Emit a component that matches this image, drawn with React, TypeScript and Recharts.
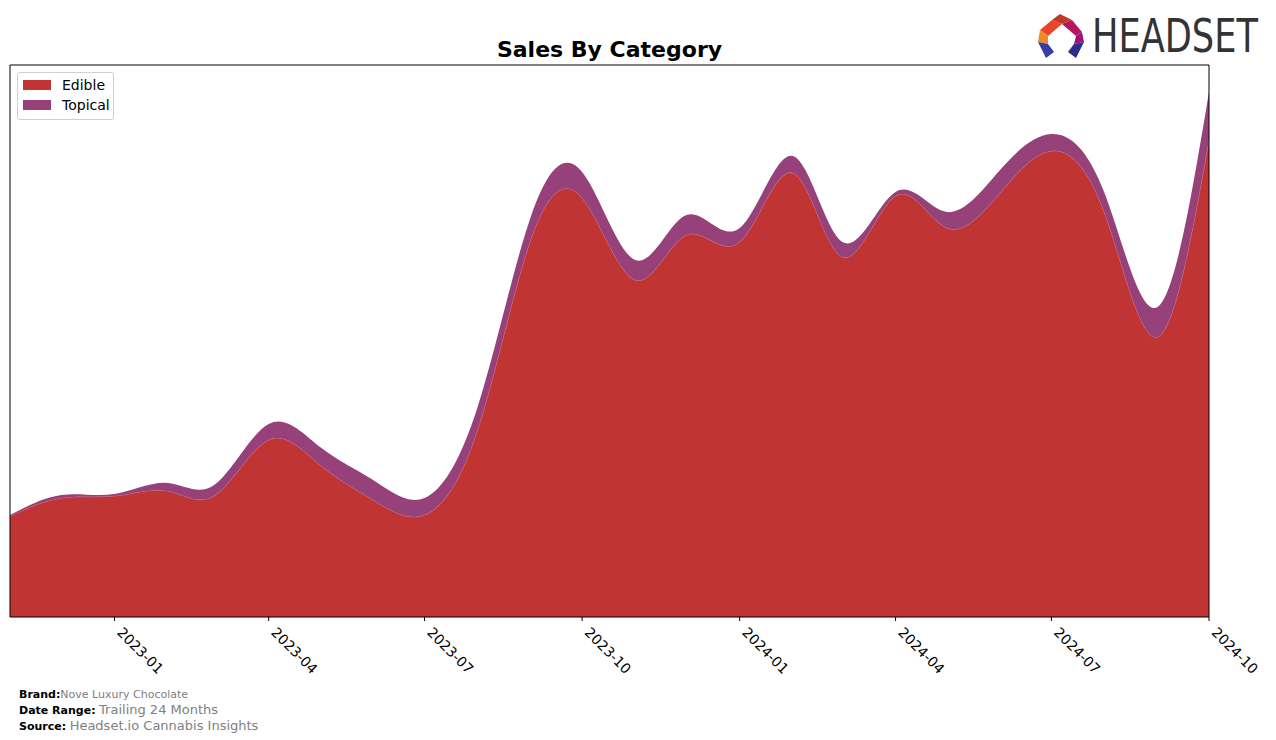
import React from 'react';
import { AreaChart, Area, XAxis, YAxis, Legend } from 'recharts';

const months = ['2022-11','2022-12','2023-01','2023-02','2023-03','2023-04','2023-05','2023-06','2023-07','2023-08','2023-09','2023-10','2023-11','2023-12','2024-01','2024-02','2024-03','2024-04','2024-05','2024-06','2024-07','2024-08','2024-09','2024-10'];
const edible = [101,119,121,126,122,177,152,117,102,187,377,419,337,382,375,444,360,421,389,424,466,404,280,477];
const topical = [1,3,2,8,11,16,18,20,17,23,23,26,20,20,14,17,15,4,16,23,17,20,30,48];
const tickLabels = ['2023-01','2023-04','2023-07','2023-10','2024-01','2024-04','2024-07','2024-10'];
const seriesNames = ['Edible','Topical'];
const seriesColors = ['#C03533','#97417A'];

const toTs = (m: string) => { const [y, mo] = m.split('-').map(Number); return Date.UTC(y, mo - 1, 1); };
const fmt = (t: number) => { const d = new Date(t); return `${d.getUTCFullYear()}-${String(d.getUTCMonth() + 1).padStart(2, '0')}`; };

const data = months.map((m, i) => ({ t: toTs(m), Edible: edible[i], Topical: topical[i] }));
const ticks = tickLabels.map(toTs);
const FONT = '"DejaVu Sans", sans-serif';

const Tick = (props: any) => {
  const { x, y, payload } = props;
  return (
    <text transform={`translate(${x + 9},${y + 3}) rotate(45)`} fontSize={14} fontFamily={FONT} fill="#000" textAnchor="start" dominantBaseline="hanging">
      {fmt(payload.value)}
    </text>
  );
};

const LegendBox = () => (
  <div style={{ border: '1px solid #d0d0d0', borderRadius: 3, background: '#fff', padding: '2px 0 4px 5px', fontFamily: FONT, fontSize: 14, width: 97, boxSizing: 'border-box', textAlign: 'left' }}>
    {seriesNames.map((n, i) => (
      <div key={n} style={{ display: 'flex', alignItems: 'center', height: 20 }}>
        <span style={{ display: 'inline-block', flexShrink: 0, width: 28, height: 10, background: seriesColors[i], marginRight: 11 }} />
        <span style={{ whiteSpace: 'nowrap' }}>{n}</span>
      </div>
    ))}
  </div>
);

const Logo = () => (
  <div style={{ position: 'absolute', left: 1034, top: 10, width: 240, height: 52 }}>
    <svg width={54} height={52} style={{ position: 'absolute', left: 0, top: 0 }}>
      <polygon points="26,4 38,10 28,14 18,10" fill="#c0392b" />
      <polygon points="38,10 48,22 42,26 28,14" fill="#b5175d" />
      <polygon points="18,10 28,14 14,26 6,20" fill="#e8452b" />
      <polygon points="6,20 14,26 14,34 4,32" fill="#f08a24" />
      <polygon points="48,22 50,32 40,34 42,26" fill="#a0127a" />
      <polygon points="4,32 14,34 20,42 12,48" fill="#3a3aa8" />
      <polygon points="50,32 40,34 34,42 42,48" fill="#2c2c8c" />
    </svg>
    <div style={{ position: 'absolute', left: 58, top: 1, fontSize: 46, lineHeight: '50px', fontFamily: '"DejaVu Sans Condensed", "Liberation Sans Narrow", sans-serif', color: '#333', whiteSpace: 'nowrap', transformOrigin: 'left top', transform: 'scaleX(0.85)' }}>HEADSET</div>
  </div>
);

export default function App() {
  return (
    <div style={{ position: 'absolute', left: 0, top: 0, width: 1276, height: 740, background: '#fff', fontFamily: FONT }}>
      <div style={{ position: 'absolute', left: 10, width: 1199, top: 37, textAlign: 'center', fontWeight: 'bold', fontSize: 22, fontFamily: FONT }}>Sales By Category</div>
      <Logo />
      <AreaChart width={1276} height={740} data={data} margin={{ top: 64, left: 9, right: 66, bottom: 0 }} style={{ position: 'absolute', left: 0, top: 0 }}>
        <XAxis dataKey="t" type="number" scale="time" domain={[toTs(months[0]), toTs(months[months.length - 1])]} ticks={ticks} tick={<Tick />} tickSize={4} tickLine={{ stroke: '#000' }} axisLine={{ stroke: '#000' }} height={123} interval={0} allowDataOverflow />
        <XAxis xAxisId="top" orientation="top" dataKey="t" type="number" domain={['dataMin', 'dataMax']} tick={false} tickLine={false} axisLine={{ stroke: '#000' }} height={1} />
        <YAxis domain={[0, 552]} tick={false} tickLine={false} axisLine={{ stroke: '#000' }} width={1} allowDataOverflow />
        <YAxis yAxisId="right" orientation="right" domain={[0, 552]} tick={false} tickLine={false} axisLine={{ stroke: '#000' }} width={1} />
        <Legend layout="horizontal" verticalAlign="middle" align="center" content={<LegendBox />} wrapperStyle={{ position: 'absolute', left: 17, top: 72, width: 97, height: 47 }} />
        <Area type="natural" dataKey="Edible" stackId="1" fill={seriesColors[0]} fillOpacity={1} stroke="#d77a86" strokeWidth={0.6} isAnimationActive={false} />
        <Area type="natural" dataKey="Topical" stackId="1" fill={seriesColors[1]} fillOpacity={1} stroke="none" isAnimationActive={false} />
      </AreaChart>
      <div style={{ position: 'absolute', left: 19, top: 687, fontSize: 11, lineHeight: '15px', fontFamily: FONT }}>
        <div><b>Brand:</b><span style={{ color: '#808080' }}>Nove Luxury Chocolate</span></div>
        <div><b>Date Range:</b> <span style={{ color: '#808080', fontSize: 13 }}>Trailing 24 Months</span></div>
        <div><b>Source:</b> <span style={{ color: '#808080', fontSize: 13 }}>Headset.io Cannabis Insights</span></div>
      </div>
    </div>
  );
}
